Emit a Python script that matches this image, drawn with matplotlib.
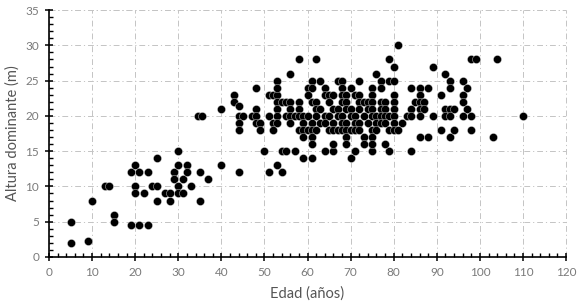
import matplotlib
matplotlib.use("Agg")
import matplotlib.pyplot as plt
from matplotlib.ticker import MultipleLocator
import numpy as np

# ---- data: (edad, altura) ----
edad_young = [5, 5, 9, 10, 13, 14, 15, 15, 19, 21, 23, 19, 20, 21, 20, 20, 22, 23, 24, 25,
              25, 25, 27, 28, 28, 29, 29, 30, 30, 30, 30, 31, 31, 32, 32, 33, 35, 35, 37, 40,
              44, 34.6, 35.4, 40]
altura_young = [2, 5, 2.3, 8, 10, 10, 6, 5, 4.5, 4.5, 4.5, 12, 13, 12, 10, 9, 9, 12, 10, 10,
                14, 8, 9, 9, 8, 12, 11, 15, 13, 10, 9, 11, 9, 13, 12, 10, 12, 8, 11, 13,
                12, 20, 20, 21]

edad_mid = [43, 43, 44, 44, 45, 44, 44, 47, 48, 48, 48, 48, 49, 49, 50, 51, 53, 54, 54, 55,
            57, 51, 52, 53, 53, 53, 56, 58, 62, 51, 53, 54, 55, 56, 58, 53, 56, 58, 53, 55,
            56, 57, 58, 59, 60, 52, 53, 56, 59, 52, 58, 59, 59, 59, 61, 70, 64, 66, 71, 75,
            79, 84]
altura_mid = [23, 22, 21.4, 20, 20, 19, 18, 20, 24, 21, 20, 19, 19, 18, 15, 12, 13, 12, 15, 15,
              15, 23, 23, 23, 25, 24, 26, 28, 28, 20, 22, 22, 22, 22, 22, 21, 21, 21, 20, 20,
              20, 20, 20, 20, 20, 19, 19, 19, 19, 18, 18, 18, 17, 14, 14, 14, 15, 15, 15, 15,
              15, 15]

centro_rows = {
    30: [81],
    28: [79],
    27: [80],
    26: [76],
    25: [61, 63, 67, 68, 72, 77, 79, 80],
    24: [60, 61, 64, 68, 70, 75, 77],
    23: [60, 64, 65, 66, 68, 69, 71, 72, 75, 80],
    22: [61, 62, 65, 68, 69, 72, 73, 74, 75, 77, 78, 80],
    21: [62, 63, 66, 67, 69, 70, 72, 74, 75, 77, 78, 80, 84],
    20: [62, 64, 65, 67, 68, 70, 71, 73, 75, 76, 77, 78, 79, 80, 83, 84],
    19: [61, 63, 64, 66, 68, 69, 71, 72, 74, 76, 77, 78, 80, 82],
    18: [60, 61, 62, 65, 66, 67, 68, 69, 70, 71, 72, 75, 76, 79, 80, 81],
    17: [61, 69, 73, 75],
    16: [61, 66, 69, 73, 75, 78],
}

edad_old = [86, 88, 93, 103, 91, 94, 98, 98, 99, 104, 89, 92, 93, 96, 84, 86, 88, 93, 97, 86,
            91, 96, 85, 86, 87, 96, 86, 87, 92, 93, 94, 97, 86, 89, 92, 93, 96, 98, 110]
altura_old = [17, 17, 17, 17, 18, 18, 18, 28, 28, 28, 27, 26, 25, 25, 24, 24, 24, 24, 24, 23,
              23, 23, 22, 22, 22, 22, 21, 21, 21, 21, 21, 21, 20, 20, 20, 20, 20, 20, 20]

edad = list(edad_young) + list(edad_mid) + list(edad_old)
altura = list(altura_young) + list(altura_mid) + list(altura_old)
for h, xs in centro_rows.items():
    edad += xs
    altura += [h] * len(xs)

x_ticks = list(range(0, 121, 10))
y_ticks = list(range(0, 36, 5))

plt.rcParams['font.family'] = ['Lato', 'DejaVu Sans']

fig = plt.figure(figsize=(5.8, 3.07), dpi=100)
ax = fig.add_axes([0.0845, 0.163, 0.8915, 0.804])

ax.scatter(edad, altura, s=34, c='black', edgecolors='#dddddd', linewidths=0.3, zorder=3,
           clip_on=False)

ax.set_xlim(0, 120)
ax.set_ylim(0, 35)
ax.set_xticks(x_ticks)
ax.set_yticks(y_ticks)
ax.xaxis.set_minor_locator(MultipleLocator(2))
ax.yaxis.set_minor_locator(MultipleLocator(1))

grid_ls = (0, (6, 3, 1.2, 3))
gcol = '#c4c4c4'
ax.grid(True, which='major', color=gcol, linestyle=grid_ls, linewidth=0.7, zorder=0)
ax.set_axisbelow(True)
ax.axhline(35, color=gcol, linestyle=grid_ls, linewidth=0.7, zorder=0, clip_on=False)
ax.axvline(120, color=gcol, linestyle=grid_ls, linewidth=0.7, zorder=0, clip_on=False)

for s in ['top', 'right']:
    ax.spines[s].set_visible(False)
for s in ['left', 'bottom']:
    ax.spines[s].set_linewidth(1.2)
    ax.spines[s].set_color('black')

ax.tick_params(which='major', direction='inout', length=6, width=1.1, color='black',
               labelsize=8.5, labelcolor='#7a7a7a', pad=4)
ax.tick_params(which='minor', direction='in', length=3, width=1.0, color='black')

ax.set_xlabel('Edad (años)', fontsize=10.5, color='#555555', labelpad=6)
ax.set_ylabel('Altura dominante (m)', fontsize=10.5, color='#555555', labelpad=4)

fig.savefig('out.png', dpi=100, facecolor='white')
